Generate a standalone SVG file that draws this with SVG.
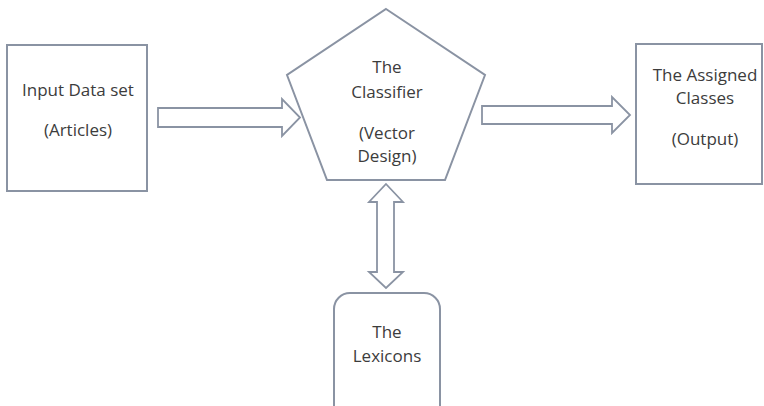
<svg xmlns="http://www.w3.org/2000/svg" width="764" height="406" viewBox="0 0 764 406">
<style>
.shape{fill:#ffffff;stroke:#8a93a3;stroke-width:2}
.arrow{fill:#ffffff;stroke:#8a93a3;stroke-width:1.8;stroke-linejoin:miter}
text{font-family:"Open Sans","Liberation Sans",sans-serif;font-size:17px;fill:#3c3c3c;text-anchor:middle}
</style>
<rect width="764" height="406" fill="#ffffff"/>
<g id="connectors">
<polygon class="arrow" points="158,108 282,108 282,99 300,117.5 282,136 282,127 158,127"/>
<polygon class="arrow" points="482,106 612,106 612,97 630,115 612,133 612,124 482,124"/>
<polygon class="arrow" points="386,184 403,202 394,202 394,272 403,272 386,288 369,272 377,272 377,202 369,202"/>
</g>
<g id="input">
<rect class="shape" x="7" y="45" width="140" height="146"/>
<text x="78" y="96">Input Data set</text>
<text x="78" y="136">(Articles)</text>
</g>
<g id="classifier">
<polygon class="shape" points="386,9 485,75 445,180 327,180 287,75"/>
<text x="387" y="73">The</text>
<text x="387" y="98">Classifier</text>
<text x="387" y="139">(Vector</text>
<text x="387" y="162">Design)</text>
</g>
<g id="output">
<rect class="shape" x="636" y="44" width="126" height="140"/>
<text x="705" y="81">The Assigned</text>
<text x="705" y="104">Classes</text>
<text x="705" y="145">(Output)</text>
</g>
<g id="lexicons">
<rect class="shape" x="334" y="293" width="106" height="130" rx="16" ry="16"/>
<text x="387" y="338">The</text>
<text x="387" y="362">Lexicons</text>
</g>
</svg>
